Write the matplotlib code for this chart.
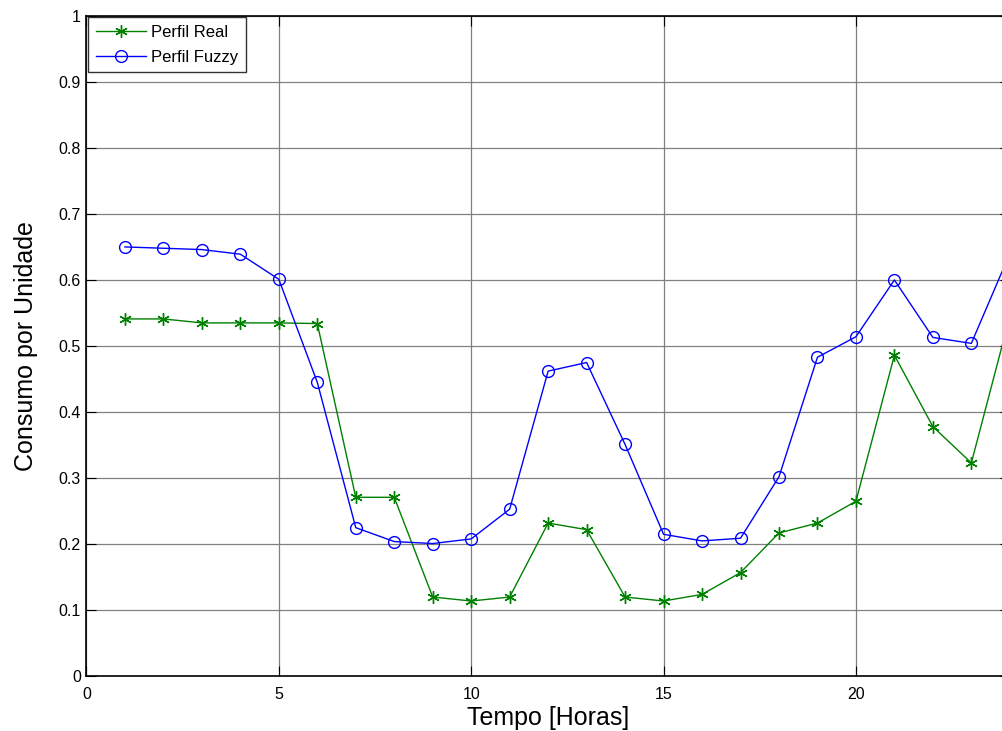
import numpy as np
import matplotlib.pyplot as plt

plt.rcParams['font.family'] = ['Liberation Sans', 'DejaVu Sans']

# hours of the day
horas = np.arange(1, 25)

# real load profile (per unit)
perfil_real = [0.541, 0.541, 0.535, 0.535, 0.535, 0.534, 0.271, 0.271,
               0.120, 0.114, 0.120, 0.232, 0.222, 0.120, 0.114, 0.124,
               0.157, 0.217, 0.232, 0.265, 0.486, 0.378, 0.323, 0.545]

# fuzzy estimated profile (per unit)
perfil_fuzzy = [0.650, 0.648, 0.646, 0.639, 0.601, 0.445, 0.225, 0.204,
                0.201, 0.208, 0.253, 0.462, 0.475, 0.351, 0.215, 0.205,
                0.209, 0.302, 0.483, 0.514, 0.600, 0.513, 0.504, 0.640]

xticks = [0, 5, 10, 15, 20]
yticks = np.round(np.arange(0, 1.01, 0.1), 1)
ytick_labels = ['0'] + ['%.1f' % v for v in yticks[1:-1]] + ['1']

fig = plt.figure(figsize=(10.03, 7.31), dpi=100)
ax = fig.add_axes([0.0862, 0.0748, 0.9206, 0.9037])

# asterisk marker like matlab '*'
ax.plot(horas, perfil_real, '-', color='#008000', lw=1.0,
        marker=(6, 2, 0), ms=9, mew=1.0, label='Perfil Real')
ax.plot(horas, perfil_fuzzy, '-', color='#0000ff', lw=1.0,
        marker='o', ms=8.5, mfc='none', mew=1.0, label='Perfil Fuzzy')

ax.set_xlim(0, 24)
ax.set_ylim(0, 1)
ax.set_xticks(xticks)
ax.set_yticks(yticks)
ax.set_yticklabels(ytick_labels)
ax.grid(True, color='#808080', lw=0.9, ls='-')
ax.set_axisbelow(True)
ax.tick_params(direction='in', length=7, width=0.8, top=True, right=True,
               labelsize=11.5)
ax.tick_params(axis='x', pad=7.5)
ax.tick_params(axis='y', pad=4)
for s in ax.spines.values():
    s.set_linewidth(1.2)

ax.set_xlabel('Tempo [Horas]', fontsize=18, labelpad=3)
ax.set_ylabel('Consumo por Unidade', fontsize=18, labelpad=15)

leg = ax.legend(loc='upper left', fontsize=12, frameon=True, fancybox=False,
                edgecolor='black', borderaxespad=0.1, handlelength=3.0,
                borderpad=0.45, labelspacing=0.6, handletextpad=0.35)
leg.get_frame().set_linewidth(1.0)

fig.savefig('out.png', dpi=100)
